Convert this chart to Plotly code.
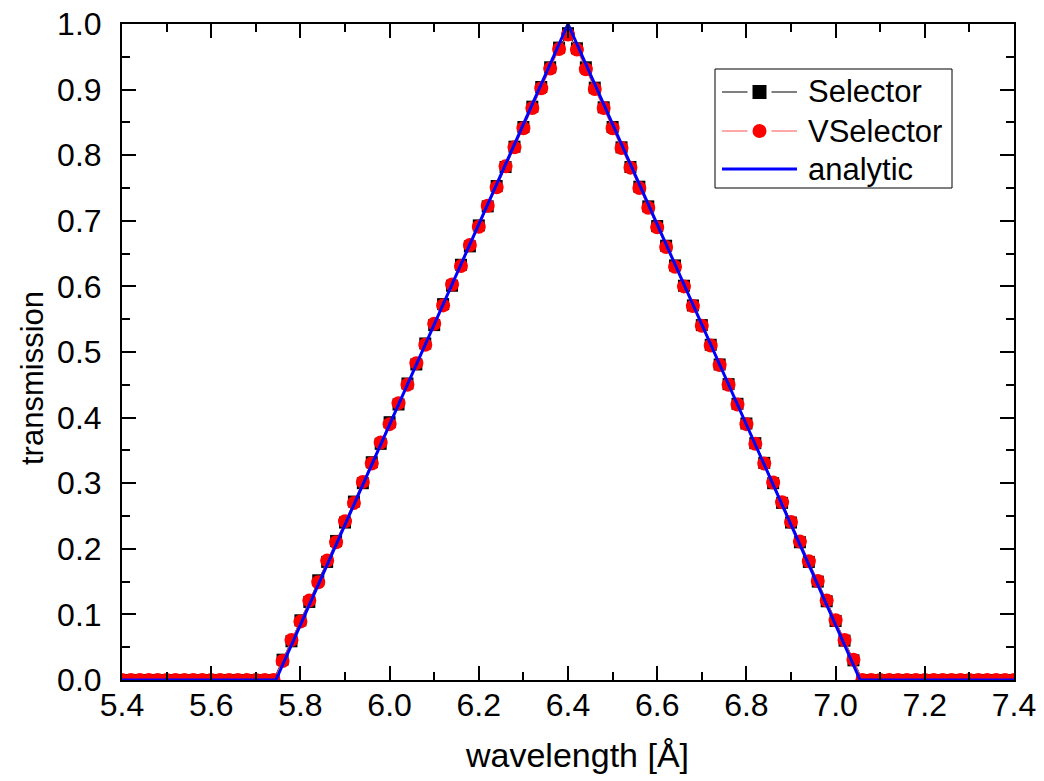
import plotly.graph_objects as go

# Wavelength bins [Å]
wavelength = [
    5.40, 5.42, 5.44, 5.46, 5.48, 5.50, 5.52, 5.54, 5.56, 5.58,
    5.60, 5.62, 5.64, 5.66, 5.68, 5.70, 5.72, 5.74, 5.76, 5.78,
    5.80, 5.82, 5.84, 5.86, 5.88, 5.90, 5.92, 5.94, 5.96, 5.98,
    6.00, 6.02, 6.04, 6.06, 6.08, 6.10, 6.12, 6.14, 6.16, 6.18,
    6.20, 6.22, 6.24, 6.26, 6.28, 6.30, 6.32, 6.34, 6.36, 6.38,
    6.40, 6.42, 6.44, 6.46, 6.48, 6.50, 6.52, 6.54, 6.56, 6.58,
    6.60, 6.62, 6.64, 6.66, 6.68, 6.70, 6.72, 6.74, 6.76, 6.78,
    6.80, 6.82, 6.84, 6.86, 6.88, 6.90, 6.92, 6.94, 6.96, 6.98,
    7.00, 7.02, 7.04, 7.06, 7.08, 7.10, 7.12, 7.14, 7.16, 7.18,
    7.20, 7.22, 7.24, 7.26, 7.28, 7.30, 7.32, 7.34, 7.36, 7.38,
    7.40,
]

# Simulated transmission, Selector component
selector = [
    0.0, 0.0, 0.0, 0.0, 0.0, 0.0, 0.0, 0.0, 0.0, 0.0,
    0.0, 0.0, 0.0, 0.0, 0.0, 0.0, 0.0, 0.0, 0.031, 0.059,
    0.091, 0.119, 0.152, 0.180, 0.212, 0.240, 0.272, 0.300, 0.332, 0.360,
    0.393, 0.420, 0.452, 0.481, 0.513, 0.541, 0.573, 0.601, 0.633, 0.661,
    0.693, 0.722, 0.753, 0.782, 0.813, 0.843, 0.874, 0.904, 0.934, 0.964,
    0.986, 0.963, 0.934, 0.903, 0.873, 0.843, 0.812, 0.782, 0.752, 0.722,
    0.692, 0.662, 0.632, 0.601, 0.571, 0.541, 0.511, 0.481, 0.451, 0.421,
    0.391, 0.361, 0.331, 0.300, 0.270, 0.240, 0.210, 0.180, 0.150, 0.120,
    0.090, 0.060, 0.030, 0.0, 0.0, 0.0, 0.0, 0.0, 0.0, 0.0,
    0.0, 0.0, 0.0, 0.0, 0.0, 0.0, 0.0, 0.0, 0.0, 0.0,
    0.0,
]

# Simulated transmission, VSelector component
vselector = [
    0.0, 0.0, 0.0, 0.0, 0.0, 0.0, 0.0, 0.0, 0.0, 0.0,
    0.0, 0.0, 0.0, 0.0, 0.0, 0.0, 0.0, 0.0, 0.029, 0.061,
    0.089, 0.121, 0.149, 0.182, 0.210, 0.242, 0.270, 0.302, 0.330, 0.362,
    0.390, 0.422, 0.450, 0.483, 0.511, 0.543, 0.571, 0.603, 0.631, 0.663,
    0.691, 0.723, 0.751, 0.783, 0.812, 0.841, 0.872, 0.902, 0.932, 0.962,
    0.984, 0.961, 0.931, 0.901, 0.872, 0.841, 0.811, 0.781, 0.750, 0.720,
    0.690, 0.660, 0.630, 0.600, 0.570, 0.540, 0.510, 0.480, 0.450, 0.420,
    0.390, 0.360, 0.330, 0.301, 0.271, 0.241, 0.211, 0.181, 0.151, 0.121,
    0.091, 0.061, 0.031, 0.0, 0.0, 0.0, 0.0, 0.0, 0.0, 0.0,
    0.0, 0.0, 0.0, 0.0, 0.0, 0.0, 0.0, 0.0, 0.0, 0.0,
    0.0,
]

# Analytic triangular transmission (vertices)
analytic_x = [5.40, 5.745, 6.40, 7.055, 7.40]
analytic_y = [0.0, 0.0, 1.0, 0.0, 0.0]

FONT = "Liberation Sans, Arial, sans-serif"
W, H = 1044, 781
ML, MR, MT, MB = 122, 30, 24, 101
PW, PH = W - ML - MR, H - MT - MB

SEL_COLOR = "black"
VSEL_COLOR = "#ff0000"
VSEL_LINE = "#ff5050"
ANA_COLOR = "#0000ff"


def px_x(p):
    """Pixel column -> paper x."""
    return (p - ML) / PW


def px_y(p):
    """Pixel row -> paper y."""
    return (H - MB - p) / PH


fig = go.Figure()
fig.add_trace(go.Scatter(
    x=wavelength, y=selector, name="Selector", mode="lines+markers",
    line=dict(color=SEL_COLOR, width=1),
    marker=dict(symbol="square", size=12, color=SEL_COLOR),
))
fig.add_trace(go.Scatter(
    x=wavelength, y=vselector, name="VSelector", mode="lines+markers",
    line=dict(color=VSEL_LINE, width=1),
    marker=dict(symbol="circle", size=14, color=VSEL_COLOR),
))
fig.add_trace(go.Scatter(
    x=analytic_x, y=analytic_y, name="analytic", mode="lines",
    line=dict(color=ANA_COLOR, width=3),
))

axis_common = dict(
    showline=True, linecolor="black", linewidth=2, mirror="allticks",
    ticks="inside", ticklen=14, tickwidth=2, tickcolor="black",
    showgrid=False, zeroline=False, automargin=False,
    tickfont=dict(family=FONT, size=32, color="black"),
    tickformat=".1f",
)

fig.update_xaxes(
    range=[5.4, 7.4], tick0=5.4, dtick=0.2, ticklabelstandoff=-4,
    minor=dict(ticks="inside", ticklen=8, tickwidth=2, tickcolor="black", dtick=0.1),
    **axis_common,
)
fig.update_yaxes(
    range=[0.0, 1.0], tick0=0.0, dtick=0.1, ticklabelstandoff=12,
    minor=dict(ticks="inside", ticklen=8, tickwidth=2, tickcolor="black", dtick=0.05),
    **axis_common,
)

# Legend box drawn with paper-anchored shapes and text
rows = [92, 131, 169]
line_l, line_r = 722, 797
key_c = 759.5
shapes = [
    dict(type="rect", xref="paper", yref="paper",
         x0=px_x(715), x1=px_x(952), y0=px_y(188), y1=px_y(69),
         line=dict(color="black", width=1), fillcolor="white", layer="above"),
]
for row, col, lw in [(rows[0], SEL_COLOR, 1), (rows[1], VSEL_LINE, 1)]:
    for a, b in [(line_l, key_c - 12), (key_c + 12, line_r)]:
        shapes.append(dict(type="line", xref="paper", yref="paper",
                           x0=px_x(a), x1=px_x(b), y0=px_y(row), y1=px_y(row),
                           line=dict(color=col, width=lw), layer="above"))
shapes.append(dict(type="rect", xref="paper", yref="paper",
                   x0=px_x(key_c - 7), x1=px_x(key_c + 7),
                   y0=px_y(rows[0] + 7), y1=px_y(rows[0] - 7),
                   line=dict(width=0), fillcolor=SEL_COLOR, layer="above"))
shapes.append(dict(type="circle", xref="paper", yref="paper",
                   x0=px_x(key_c - 7), x1=px_x(key_c + 7),
                   y0=px_y(rows[1] + 7), y1=px_y(rows[1] - 7),
                   line=dict(width=0), fillcolor=VSEL_COLOR, layer="above"))
shapes.append(dict(type="line", xref="paper", yref="paper",
                   x0=px_x(line_l), x1=px_x(line_r), y0=px_y(rows[2]), y1=px_y(rows[2]),
                   line=dict(color=ANA_COLOR, width=3), layer="above"))

annotations = [
    dict(text=name, xref="paper", yref="paper", x=px_x(806), y=px_y(row),
         xanchor="left", yanchor="middle", showarrow=False,
         font=dict(family=FONT, size=31, color="black"))
    for name, row in zip(["Selector", "VSelector", "analytic"], rows)
]
annotations += [
    dict(text="wavelength [Å]", xref="paper", yref="paper",
         x=px_x(577), y=px_y(755), xanchor="center", yanchor="middle",
         showarrow=False, font=dict(family=FONT, size=34, color="black")),
    dict(text="transmission", xref="paper", yref="paper",
         x=px_x(33), y=px_y(378), xanchor="center", yanchor="middle", textangle=-90,
         showarrow=False, font=dict(family=FONT, size=31, color="black")),
]

fig.update_layout(
    width=W, height=H,
    margin=dict(l=ML, r=MR, t=MT, b=MB),
    paper_bgcolor="white", plot_bgcolor="white",
    font=dict(family=FONT, color="black"),
    showlegend=False,
    shapes=shapes,
    annotations=annotations,
)

fig.write_html("out.html")
